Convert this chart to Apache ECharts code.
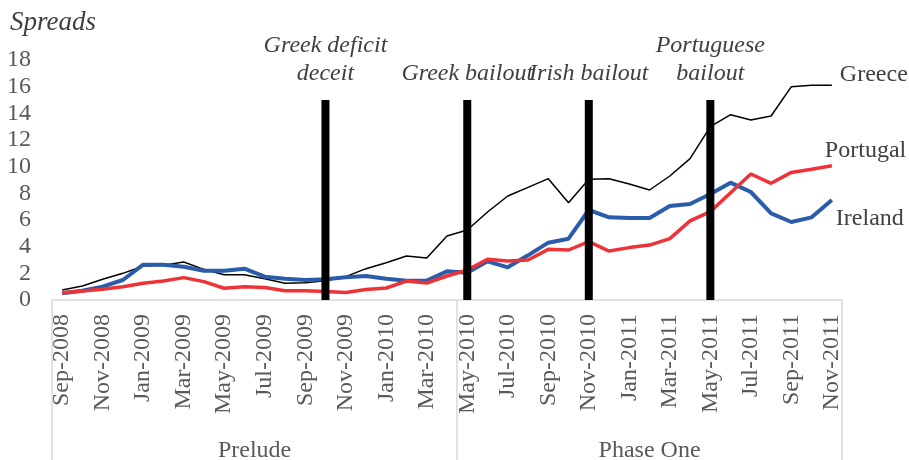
<!DOCTYPE html>
<html>
<head>
<meta charset="utf-8">
<title>Spreads</title>
<script src="https://cdn.jsdelivr.net/npm/echarts@6/dist/echarts.min.js"></script>
<style>
	html, body { margin: 0; padding: 0; background: #fff; }
	#spreads_line { width: 909px; height: 460px; }
</style>
</head>
<body>
<div id="spreads_line"></div>
<script>
var months = ['Sep-2008', 'Oct-2008', 'Nov-2008', 'Dec-2008',
	'Jan-2009', 'Feb-2009', 'Mar-2009', 'Apr-2009', 'May-2009', 'Jun-2009', 'Jul-2009', 'Aug-2009', 'Sep-2009', 'Oct-2009', 'Nov-2009', 'Dec-2009',
	'Jan-2010', 'Feb-2010', 'Mar-2010', 'Apr-2010', 'May-2010', 'Jun-2010', 'Jul-2010', 'Aug-2010', 'Sep-2010', 'Oct-2010', 'Nov-2010', 'Dec-2010',
	'Jan-2011', 'Feb-2011', 'Mar-2011', 'Apr-2011', 'May-2011', 'Jun-2011', 'Jul-2011', 'Aug-2011', 'Sep-2011', 'Oct-2011', 'Nov-2011'];

var greece = [0.75, 1.05, 1.55, 2.0, 2.55, 2.6, 2.85, 2.3, 1.9, 1.9, 1.6, 1.25, 1.3, 1.45, 1.75, 2.35, 2.8, 3.3, 3.15, 4.8,
	5.25, 6.6, 7.8, 8.45, 9.1, 7.3, 9.05, 9.1, 8.7, 8.25, 9.3, 10.6, 13.0, 13.9, 13.5, 13.8, 16.0, 16.1, 16.1];
var ireland = [0.5, 0.7, 1.0, 1.5, 2.65, 2.65, 2.5, 2.2, 2.2, 2.35, 1.75, 1.6, 1.5, 1.55, 1.7, 1.8, 1.6, 1.45, 1.45, 2.15,
	2.05, 2.9, 2.45, 3.35, 4.3, 4.6, 6.75, 6.2, 6.15, 6.15, 7.05, 7.2, 7.95, 8.8, 8.1, 6.5, 5.85, 6.2, 7.5];
var portugal = [0.55, 0.68, 0.8, 1.0, 1.25, 1.42, 1.68, 1.38, 0.88, 1.0, 0.93, 0.7, 0.7, 0.63, 0.57, 0.78, 0.9, 1.42, 1.27, 1.8,
	2.25, 3.05, 2.92, 3.0, 3.8, 3.75, 4.38, 3.67, 3.93, 4.12, 4.6, 5.93, 6.63, 8.05, 9.45, 8.75, 9.57, 9.8, 10.07];

// event markers
var eventMonths = ['Oct-2009', 'May-2010', 'Nov-2010', 'May-2011'];
var eventNames = ['Greek deficit\ndeceit', 'Greek bailout', 'Irish bailout', 'Portuguese\nbailout'];
var eventHeight = 15;

// phases along the bottom
var phaseNames = ['Prelude', 'Phase One'];
var phaseStarts = [0, 20];

var yTicks = [0, 18, 2];

function spreadsConfig() {

	var self = this;
	var serif = "'Liberation Serif', 'Times New Roman', serif";

	this.init = function() {

		var myChart = echarts.init(document.getElementById('spreads_line'));

		var eventData = months.map(function(m) {
			return eventMonths.indexOf(m) >= 0 ? eventHeight : '-';
		});
		// phase label sits at the centre of its months
		var phaseCenters = phaseStarts.map(function(s, i) {
			var end = i + 1 < phaseStarts.length ? phaseStarts[i + 1] : months.length;
			return (s + end) / 2;
		});

		var option = {
			animation: false,
			title: {
				text: 'Spreads',
				left: 5,
				top: 4,
				textStyle: {
					fontFamily: serif,
					fontStyle: 'italic',
					fontWeight: 'normal',
					fontSize: 27,
					color: '#404040'
				}
			},
			grid: {
				left: 52,
				right: 67,
				top: 60,
				bottom: 160,
				outerBoundsMode: 'none'
			},
			xAxis: [{
				type: 'category',
				data: months,
				boundaryGap: true,
				axisLine: {
					lineStyle: { color: '#d9d9d9', width: 1.5 }
				},
				axisTick: {
					show: true,
					length: 165,
					interval: function(index) {
						return phaseStarts.indexOf(index) >= 0;
					},
					lineStyle: { color: '#d9d9d9', width: 1.5 }
				},
				axisLabel: {
					interval: 1,
					rotate: 90,
					margin: 14,
					fontFamily: serif,
					fontSize: 24,
					color: '#595959'
				}
			}, {
				type: 'value',
				position: 'bottom',
				min: 0,
				max: months.length,
				interval: 0.5,
				axisLine: { show: false },
				axisTick: { show: false },
				splitLine: { show: false },
				axisLabel: {
					margin: 139,
					fontFamily: serif,
					fontSize: 24,
					color: '#595959',
					formatter: function(v) {
						var i = phaseCenters.indexOf(v);
						return i >= 0 ? phaseNames[i] : '';
					}
				}
			}],
			yAxis: {
				type: 'value',
				min: yTicks[0],
				max: yTicks[1],
				interval: yTicks[2],
				axisLine: { show: false },
				axisTick: { show: false },
				splitLine: { show: false },
				axisLabel: {
					margin: 21,
					fontFamily: serif,
					fontSize: 24,
					color: '#595959'
				}
			},
			series: [{
				name: 'Greece',
				type: 'line',
				data: greece,
				symbol: 'none',
				lineStyle: { color: '#000000', width: 1.5 },
				endLabel: {
					show: true,
					formatter: '{a}',
					offset: [0, -11],
					fontFamily: serif,
					fontSize: 24,
					color: '#404040'
				}
			}, {
				name: 'Ireland',
				type: 'line',
				data: ireland,
				symbol: 'none',
				lineStyle: { color: '#2a5caa', width: 4 },
				endLabel: {
					show: true,
					formatter: '{a}',
					offset: [-4, 19],
					fontFamily: serif,
					fontSize: 24,
					color: '#404040'
				}
			}, {
				name: 'Portugal',
				type: 'line',
				data: portugal,
				symbol: 'none',
				lineStyle: { color: '#ee3338', width: 3.5 },
				endLabel: {
					show: true,
					formatter: '{a}',
					offset: [-15, -15],
					fontFamily: serif,
					fontSize: 24,
					color: '#404040'
				}
			}, {
				name: 'Events',
				type: 'bar',
				data: eventData,
				barWidth: 8,
				z: 5,
				itemStyle: { color: '#000000' },
				label: {
					show: true,
					position: 'top',
					distance: 12,
					lineHeight: 28,
					fontFamily: serif,
					fontStyle: 'italic',
					fontSize: 24,
					color: '#404040',
					formatter: function(p) {
						return eventNames[eventMonths.indexOf(p.name)];
					}
				}
			}]
		};
		window.onresize = myChart.resize;
		myChart.setOption(option);

	}

	self.init();

}

new spreadsConfig();
</script>
</body>
</html>
